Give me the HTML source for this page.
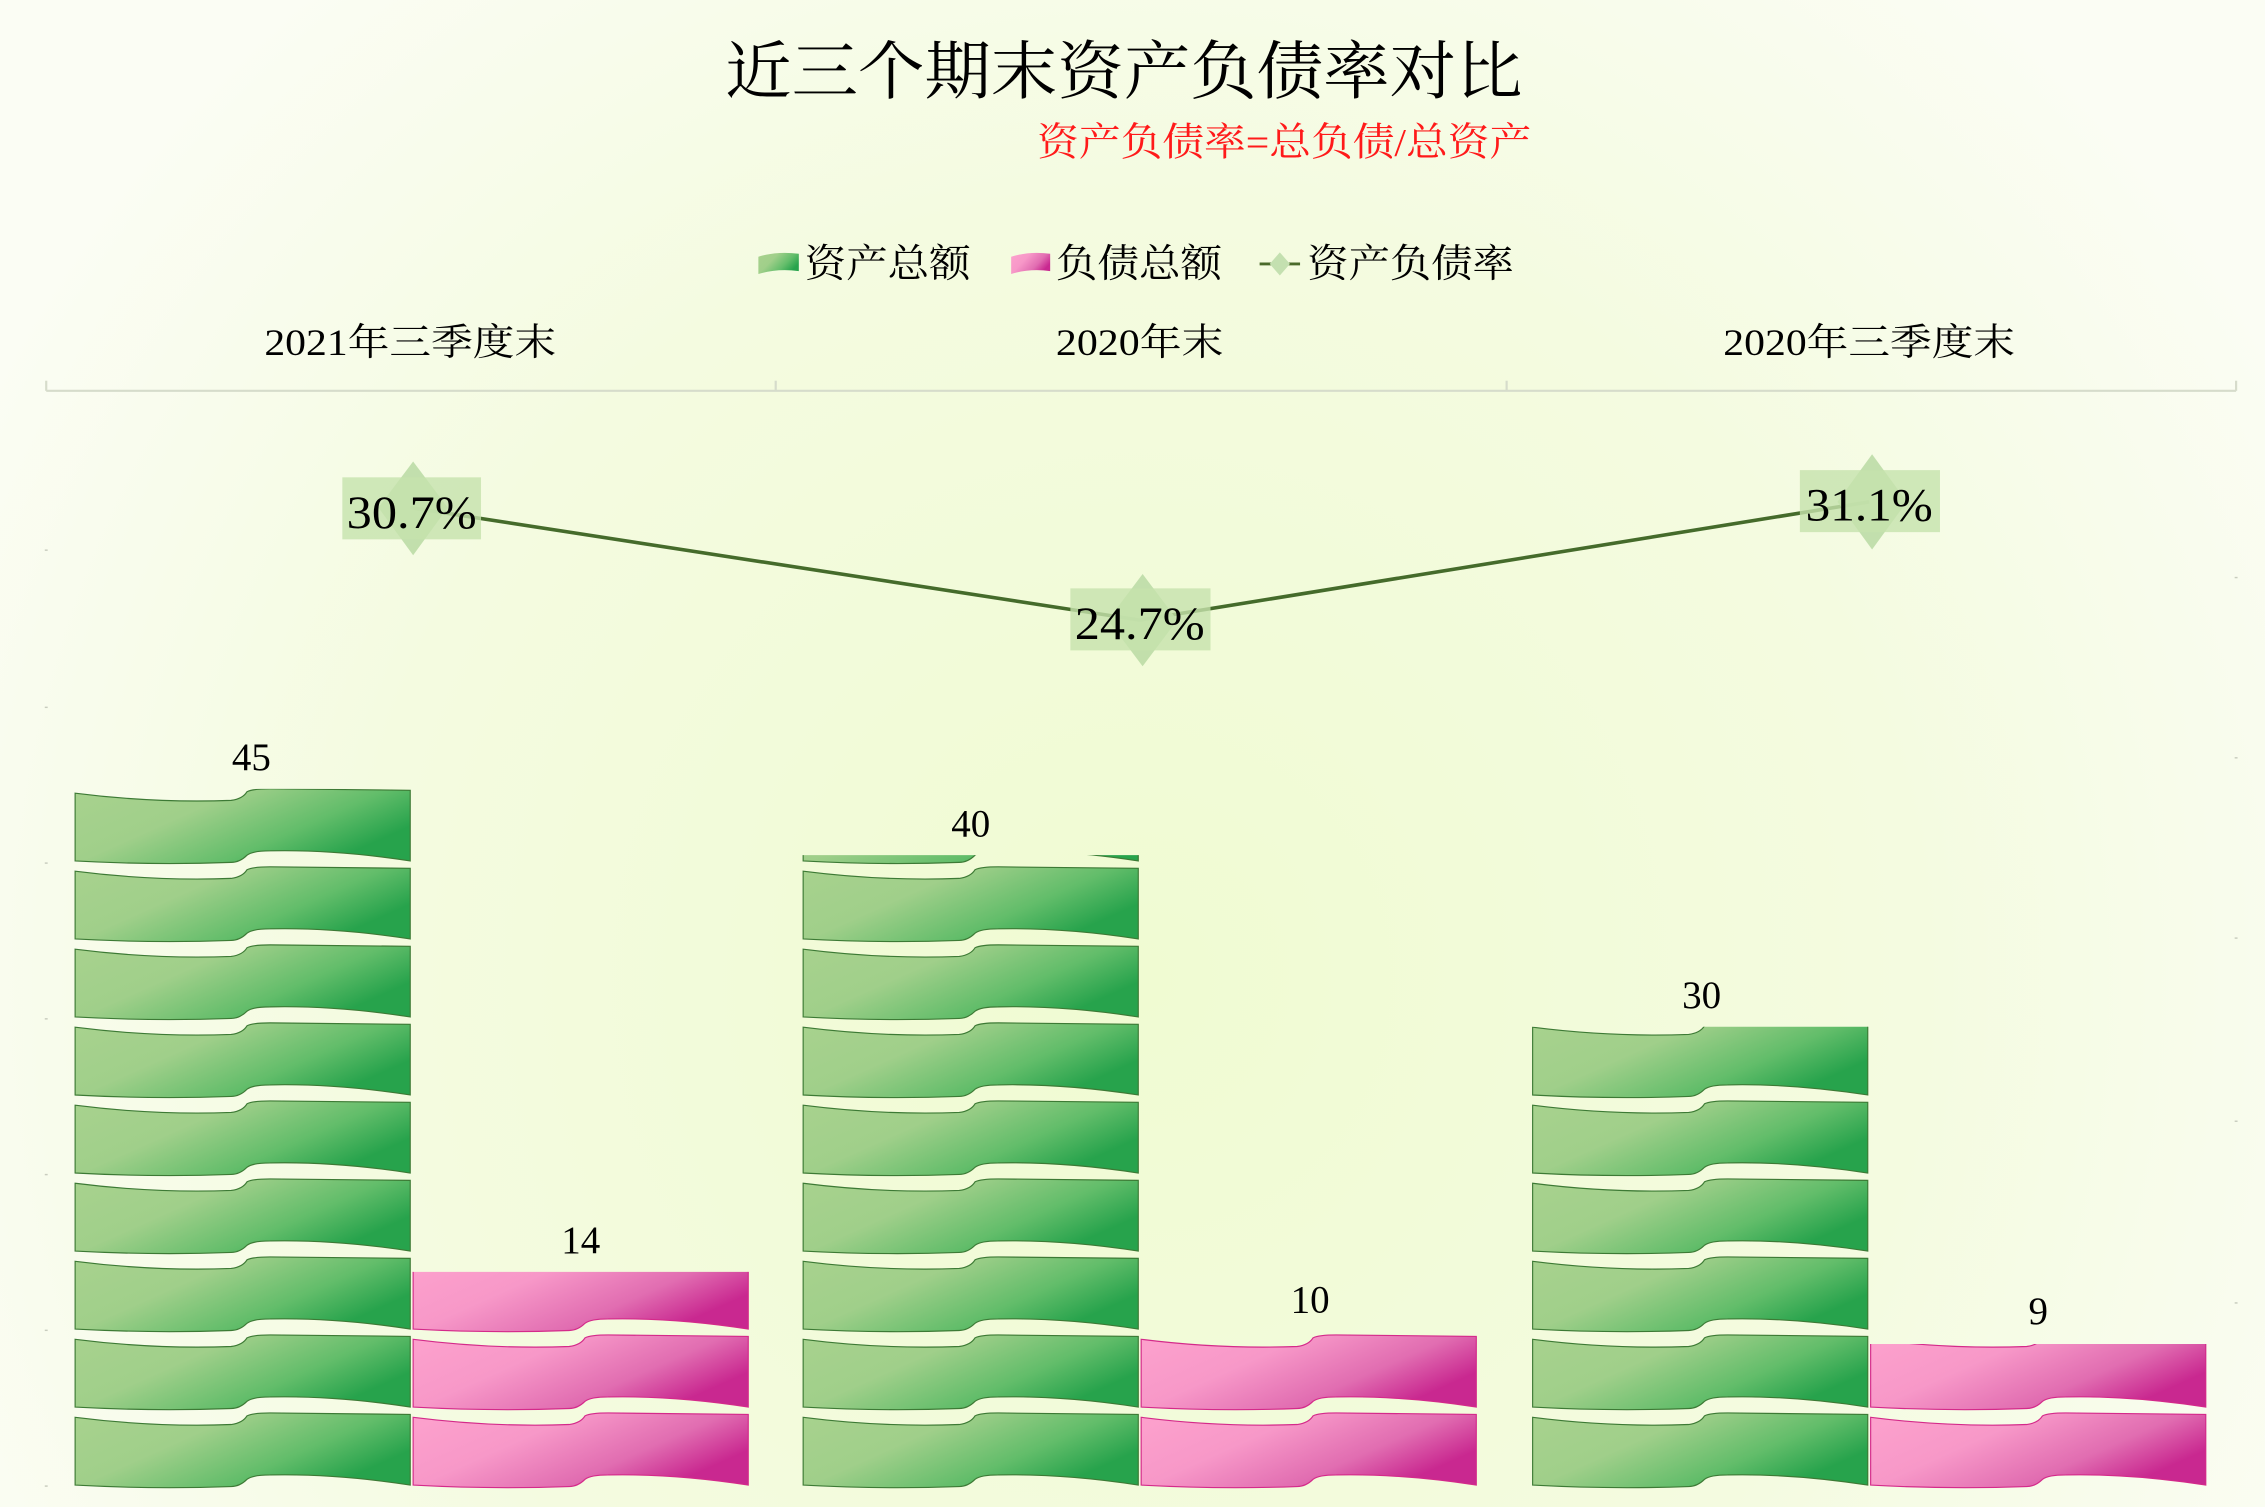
<!DOCTYPE html>
<html><head><meta charset="utf-8"><style>
html,body{margin:0;padding:0;width:2265px;height:1507px;overflow:hidden;background:#f8fcec}
svg{display:block}
text{font-family:"Liberation Serif","Noto Serif CJK SC","Noto Sans CJK SC",serif}
</style></head><body>
<svg width="2265" height="1507" viewBox="0 0 1568 1045" preserveAspectRatio="none" xmlns="http://www.w3.org/2000/svg">
<defs>
<radialGradient id="bg" cx="789" cy="680" r="900" gradientUnits="userSpaceOnUse">
<stop offset="0" stop-color="#f0fbd2"/><stop offset="0.6" stop-color="#f4fbe0"/><stop offset="1" stop-color="#fbfdf4"/>
</radialGradient>
<linearGradient id="gg" x1="0" y1="0" x2="1" y2="0.5">
<stop offset="0" stop-color="#a8d28e"/><stop offset="0.4" stop-color="#a0cf8a"/><stop offset="0.75" stop-color="#62bd6a"/><stop offset="1" stop-color="#27a34c"/>
</linearGradient>
<linearGradient id="pg" x1="0" y1="0" x2="1" y2="0.5">
<stop offset="0" stop-color="#fda2cd"/><stop offset="0.4" stop-color="#f798c8"/><stop offset="0.75" stop-color="#e16db1"/><stop offset="1" stop-color="#c92890"/>
</linearGradient>
<path id="rib" d="M0,3 Q55,10 108,8 Q116,7 119,2 Q123,0 135,0 L232,1 L232,50 Q180,42 135,43 Q123,43 119,46 Q114,51 108,51 Q55,53 0,50 Z"/>
</defs>
<rect width="1568" height="1045" fill="url(#bg)"/>

<text x="778" y="65" font-size="44" text-anchor="middle" textLength="552" lengthAdjust="spacingAndGlyphs">近三个期末资产负债率对比</text>
<text x="889" y="108" font-size="27" fill="#ff1a1a" text-anchor="middle" textLength="342" lengthAdjust="spacingAndGlyphs">资产负债率=总负债/总资产</text>

<g font-size="27">
<path d="M525,178 Q538,174 553,176 L553,188 Q538,186 525,190 Z" fill="url(#gg)"/>
<text x="557" y="192" textLength="115" lengthAdjust="spacingAndGlyphs">资产总额</text>
<path d="M700,178 Q713,174 727,176 L727,188 Q713,186 700,190 Z" fill="url(#pg)"/>
<text x="731" y="192" textLength="115" lengthAdjust="spacingAndGlyphs">负债总额</text>
<line x1="872" y1="183" x2="900" y2="183" stroke="#4a6a2a" stroke-width="2"/>
<path d="M886,175 L893,183 L886,191 L879,183 Z" fill="#c4e0b0"/>
<text x="905" y="192" textLength="143" lengthAdjust="spacingAndGlyphs">资产负债率</text>
</g>

<g font-size="26" text-anchor="middle">
<text x="284" y="246" textLength="202" lengthAdjust="spacingAndGlyphs">2021年三季度末</text>
<text x="789" y="246" textLength="116" lengthAdjust="spacingAndGlyphs">2020年末</text>
<text x="1294" y="246" textLength="202" lengthAdjust="spacingAndGlyphs">2020年三季度末</text>
</g>
<g stroke="#d6dccb" stroke-width="1.5">
<line x1="32" y1="271" x2="1548" y2="271"/>
<line x1="32" y1="264" x2="32" y2="271"/><line x1="537" y1="264" x2="537" y2="271"/>
<line x1="1043" y1="264" x2="1043" y2="271"/><line x1="1548" y1="264" x2="1548" y2="271"/>
</g>
<g fill="#c8ccbe">
<rect x="31" y="381" width="2" height="1"/><rect x="31" y="490" width="2" height="1"/><rect x="31" y="598" width="2" height="1"/><rect x="31" y="706" width="2" height="1"/><rect x="31" y="814" width="2" height="1"/><rect x="31" y="922" width="2" height="1"/><rect x="31" y="1030" width="2" height="1"/>
<rect x="1547" y="400" width="2" height="1"/><rect x="1547" y="525" width="2" height="1"/><rect x="1547" y="650" width="2" height="1"/><rect x="1547" y="777" width="2" height="1"/><rect x="1547" y="903" width="2" height="1"/>
</g>

<g stroke="#3d7a35" stroke-width="0.8">
<clipPath id="c1"><rect x="40" y="547" width="260" height="495"/></clipPath>
<g clip-path="url(#c1)" fill="url(#gg)">
<use href="#rib" x="52" y="547"/><use href="#rib" x="52" y="601.1"/><use href="#rib" x="52" y="655.2"/><use href="#rib" x="52" y="709.3"/><use href="#rib" x="52" y="763.4"/><use href="#rib" x="52" y="817.5"/><use href="#rib" x="52" y="871.6"/><use href="#rib" x="52" y="925.7"/><use href="#rib" x="52" y="979.8"/>
</g>
<clipPath id="c2"><rect x="540" y="593" width="260" height="449"/></clipPath>
<g clip-path="url(#c2)" fill="url(#gg)">
<use href="#rib" x="556" y="547"/><use href="#rib" x="556" y="601.1"/><use href="#rib" x="556" y="655.2"/><use href="#rib" x="556" y="709.3"/><use href="#rib" x="556" y="763.4"/><use href="#rib" x="556" y="817.5"/><use href="#rib" x="556" y="871.6"/><use href="#rib" x="556" y="925.7"/><use href="#rib" x="556" y="979.8"/>
</g>
<clipPath id="c3"><rect x="1050" y="712" width="260" height="330"/></clipPath>
<g clip-path="url(#c3)" fill="url(#gg)">
<use href="#rib" x="1061" y="709.3"/><use href="#rib" x="1061" y="763.4"/><use href="#rib" x="1061" y="817.5"/><use href="#rib" x="1061" y="871.6"/><use href="#rib" x="1061" y="925.7"/><use href="#rib" x="1061" y="979.8"/>
</g>
</g>
<g stroke="#d42a8a" stroke-width="0.8" fill="url(#pg)">
<clipPath id="p1"><rect x="280" y="882" width="260" height="160"/></clipPath>
<g clip-path="url(#p1)">
<use href="#rib" x="286" y="871.6"/><use href="#rib" x="286" y="925.7"/><use href="#rib" x="286" y="979.8"/>
</g>
<g>
<use href="#rib" x="790" y="925.7"/><use href="#rib" x="790" y="979.8"/>
</g>
<clipPath id="p3"><rect x="1290" y="932" width="260" height="110"/></clipPath>
<g clip-path="url(#p3)">
<use href="#rib" x="1295" y="925.7"/><use href="#rib" x="1295" y="979.8"/>
</g>
</g>

<g font-size="27" text-anchor="middle">
<text x="174" y="534">45</text>
<text x="402" y="869">14</text>
<text x="672" y="580">40</text>
<text x="907" y="910">10</text>
<text x="1178" y="699">30</text>
<text x="1411" y="918">9</text>
</g>

<polyline points="284,352 789,430 1294,348" fill="none" stroke="#456b2b" stroke-width="2.5"/>
<g fill="#bcdba6" opacity="0.9">
<path d="M286,320 L310,352 L286,385 L262,352 Z"/>
<path d="M791,398 L815,430 L791,462 L767,430 Z"/>
<path d="M1296,315 L1320,348 L1296,381 L1272,348 Z"/>
</g>
<g fill="#c5e2ad" opacity="0.8">
<rect x="237" y="331" width="96" height="43"/>
<rect x="741" y="408" width="97" height="43"/>
<rect x="1246" y="326" width="97" height="43"/>
</g>
<g font-size="32" text-anchor="middle">
<text x="285" y="366" textLength="90" lengthAdjust="spacingAndGlyphs">30.7%</text>
<text x="789" y="443" textLength="90" lengthAdjust="spacingAndGlyphs">24.7%</text>
<text x="1294" y="361" textLength="88" lengthAdjust="spacingAndGlyphs">31.1%</text>
</g>
</svg>
</body></html>
